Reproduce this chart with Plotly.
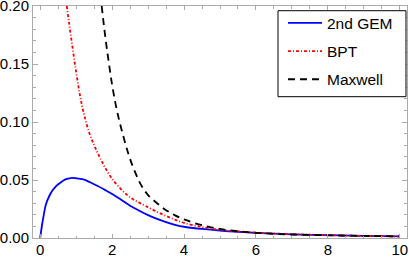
import plotly.graph_objects as go

# ---- data ----
gem_x = [0, 0.05, 0.1, 0.16, 0.25, 0.35, 0.45, 0.55, 0.7, 0.85, 1.0, 1.2, 1.4, 1.6, 1.8,
         2.0, 2.25, 2.5, 2.75, 3.0, 3.25, 3.5, 3.75, 4.0, 4.5, 5.0, 5.5, 6.0, 7.0, 8.0, 9.0, 10.0]
gem_y = [0, 0.011, 0.020, 0.029, 0.036, 0.0413, 0.045, 0.0475, 0.0505, 0.0517, 0.0515, 0.0505,
         0.0478, 0.0448, 0.0415, 0.0380, 0.0330, 0.0278, 0.0236, 0.0197, 0.0165, 0.0137, 0.0114,
         0.0097, 0.0078, 0.0064, 0.0054, 0.0045, 0.0032, 0.0024, 0.0018, 0.0014]

bpt_x = [0.74, 0.8, 0.9, 1.0, 1.1, 1.2, 1.35, 1.5, 1.65, 1.8, 2.0, 2.25, 2.5, 2.75, 3.0,
         3.25, 3.5, 3.75, 4.0, 4.5, 5.0, 5.5, 6.0, 7.0, 8.0, 9.0, 10.0]
bpt_y = [0.200, 0.186, 0.164, 0.143, 0.124, 0.109, 0.092, 0.080, 0.070, 0.061, 0.051, 0.042,
         0.0350, 0.0305, 0.0265, 0.0225, 0.0190, 0.0158, 0.0130, 0.0094, 0.0070, 0.0056,
         0.0046, 0.0033, 0.0024, 0.0018, 0.0014]

max_x = [1.71, 1.8, 1.9, 2.0, 2.1, 2.2, 2.3, 2.4, 2.5, 2.65, 2.8, 3.0, 3.25, 3.5, 3.75, 4.0,
         4.5, 5.0, 5.5, 6.0, 6.5, 7.0, 8.0, 9.0, 10.0]
max_y = [0.200, 0.176, 0.153, 0.132, 0.115, 0.101, 0.089, 0.078, 0.068, 0.056, 0.046, 0.037,
         0.030, 0.024, 0.0195, 0.0160, 0.0110, 0.0078, 0.0058, 0.0045, 0.0036, 0.0030,
         0.0023, 0.0018, 0.0014]

series_names = ["2nd GEM", "BPT", "Maxwell"]
x_tick_vals = [0, 2, 4, 6, 8, 10]
y_tick_vals = [0.0, 0.05, 0.10, 0.15, 0.20]
y_tick_text = ["0.00", "0.05", "0.10", "0.15", "0.20"]

fig = go.Figure()
fig.add_trace(go.Scatter(x=gem_x, y=gem_y, mode="lines", name=series_names[0], legendgroup="a",
                         line=dict(color="#0000ff", width=1.8, shape="spline")))
fig.add_trace(go.Scatter(x=bpt_x, y=bpt_y, mode="lines", name=series_names[1], legendgroup="b",
                         line=dict(color="#ff0000", width=1.8, shape="spline", dash="3px,2px,1px,2px")))
fig.add_trace(go.Scatter(x=max_x, y=max_y, mode="lines", name=series_names[2], legendgroup="c",
                         line=dict(color="#000000", width=1.8, shape="spline", dash="7px,5px")))

frame_color = "#aaaaaa"

fig.update_layout(
    template="none",
    width=409, height=257,
    margin=dict(l=33, r=2, t=6, b=19),
    plot_bgcolor="white", paper_bgcolor="white",
    font=dict(family="Liberation Sans, Arial, sans-serif", size=15, color="black"),
    showlegend=True,
    legend=dict(x=0.6684, xanchor="left", y=0.9983, yanchor="top",
                borderwidth=0, bgcolor="rgba(0,0,0,0)", itemwidth=34,
                tracegroupgap=5, font=dict(size=15.5)),
    shapes=[dict(type="rect", xref="paper", yref="paper", x0=0.6551, x1=0.9973,
                 y0=0.6091, y1=0.9797, line=dict(color="black", width=1),
                 fillcolor="white", layer="above")],
)
axis_common = dict(ticks="inside", tickcolor=frame_color, showline=True, linecolor=frame_color,
                   linewidth=1, mirror="ticks", showgrid=False, zeroline=False, automargin=False,
                   ticklabeloverflow="allow")
fig.update_xaxes(range=[-0.2, 10.2], tickmode="array", tickvals=x_tick_vals, ticklen=4,
                 ticklabelstandoff=-2, **axis_common,
                 minor=dict(tick0=0, dtick=0.5, ticks="inside", ticklen=2.5, tickcolor=frame_color))
fig.update_yaxes(range=[0, 0.2], tickmode="array", tickvals=y_tick_vals, ticktext=y_tick_text,
                 ticklen=5, **axis_common,
                 minor=dict(tick0=0, dtick=0.01, ticks="inside", ticklen=3, tickcolor=frame_color))

fig.write_html("out.html", config={"displayModeBar": False},
               post_script="document.body.style.margin='0';document.body.style.padding='0';")
